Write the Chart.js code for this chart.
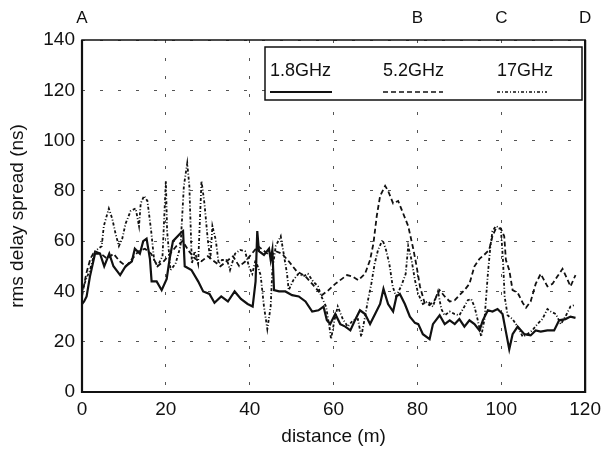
<!DOCTYPE html>
<html>
<head>
<meta charset="utf-8">
<style>
  html, body { margin: 0; padding: 0; background: #fff; }
</style>
<script src="https://cdn.jsdelivr.net/npm/chart.js@4.4.1/dist/chart.umd.min.js"></script>
</head>
<body>
<canvas id="chart" width="607" height="450"></canvas>
<script>
/* rms delay spread vs distance: [distance (m), ns] */

const labels = ['1.8GHz', '5.2GHz', '17GHz'];
const markers = [['A', 0], ['B', 80], ['C', 100], ['D', 120]];
const xTicks = [0, 20, 40, 60, 80, 100, 120];
const yTicks = [0, 20, 40, 60, 80, 100, 120, 140];

const s18 = [[0,35],[0.5,36],[1.1,38],[1.9,46],[3.1,55],[4.3,55],[5.3,50],[6.5,55],[7.5,50],[9.1,46.5],
  [10.4,50],[11.9,52],[12.6,57],[13.8,55],[14.6,60],[15.4,61],[16.2,53],[16.6,44],[17.8,44],[19,40.5],
  [20.2,45],[20.9,53],[21.7,60],[23.7,63.5],[24.1,64],[24.5,50],[26.1,48.5],[27.7,44],[28.9,40],[30.4,39],
  [31.6,35.5],[33.2,38],[34.8,36],[36.4,40],[37.9,37],[39.5,35],[40.7,34],[41.4,44],[41.8,64],[42.2,56],
  [43.4,54.5],[44.6,57],[45,52.5],[45.4,56.5],[45.8,40.5],[47,40],[48.5,40],[50.1,38.5],[51.7,38],[53.3,36],
  [54.9,32],[56.4,32.5],[57.6,34],[58.4,28.5],[59.2,27],[60.4,31],[61.6,27],[62.8,26],[64,24.5],[65.1,28.5],
  [66.3,32.5],[67.5,31],[68.7,27],[69.9,31],[71.1,35],[71.9,41],[73,35],[74.2,32],[75,38],[75.8,39],
  [77,35],[78.2,30],[79.4,27.5],[80.2,27],[81.3,23],[82.9,21],[83.7,27],[85.3,30.5],[86.5,27],[87.7,28.5],
  [88.9,27],[90,29],[91.2,26],[92.4,28.5],[93.6,27],[94.8,24.5],[95.6,28.5],[96.8,32.5],[97.9,32],[99.1,33],
  [100.3,31],[101.1,24],[101.9,17],[102.7,23],[103.9,26],[105.5,23],[107,22.5],[108.2,24.5],[109.4,24],
  [111,24.5],[112.6,24.5],[113.8,28.5],[115.3,29],[116.5,30],[117.7,29.5]];

const s52 = [[0,38],[1,47],[2,53],[3,56],[4.5,55],[6,53],[7.5,55],[9,52],[10.5,50],[12,53],
  [13.5,56],[15,57],[16.5,55],[18,50],[19.5,52],[21,55],[22.5,58],[24,60],[25.5,56],[27,53],
  [28.5,52],[30,54],[31.5,52],[33,50],[34.5,52],[36,54],[37.5,50],[39,52],[40.5,55],[42,58],
  [43.5,56],[45,54],[46.2,56],[47.7,55],[49.3,52],[51.2,48],[53.3,46],[54.9,43],[57.2,38.5],[58.8,40.5],
  [60.4,43],[62,45],[63.2,46.5],[64.4,46],[65.9,44.5],[67.5,47],[68.7,52.5],[69.5,59],[70.3,70],[71.1,78],
  [72.3,82],[73,80],[74.2,75],[75.4,76],[76.6,71],[77.8,66],[79,57],[79.8,50],[80.6,42],[81.7,35.5],
  [82.9,34.5],[84.1,36.5],[85.3,40.5],[86.5,38],[87.7,36],[88.9,36.5],[90,38.5],[91.2,40.5],[92.4,43],[93.6,50],
  [94.8,53],[95.9,54.5],[97.1,56.5],[97.9,62],[98.7,65],[99.9,65],[100.7,62],[101.1,52.5],[101.9,48.5],[102.7,40.5],
  [103.9,39.5],[105.1,35.5],[105.9,33.5],[107,36],[108.2,43],[109.4,47],[110.2,44.5],[111,42],[112.2,43],[113.4,46],
  [114.6,49],[115.7,45],[116.5,42],[117.7,46.5]];

const s17 = [[0,40],[1,45],[1.9,48.5],[3.1,56],[4.7,58],[5.2,66],[6.4,73],[7.2,69],[8,63],[8.8,58],
  [9.6,61],[10.4,67],[11.6,72],[12.8,73],[13.6,66],[14,75],[14.8,78],[15.6,76],[16.5,64],[17.2,52.5],
  [18,50],[19.2,54],[20,84],[20.3,64],[21.1,48.5],[22.3,51],[23.5,58],[24.3,82],[25.1,91],[25.6,82],
  [26.2,51],[26.9,56],[27.7,51],[28.5,84],[29.2,75],[30,60.5],[30.6,52.5],[31.1,66],[31.9,60.5],[32.6,51],
  [33.4,52.5],[34.6,52.5],[35.3,48.5],[36.5,55],[37.7,56.5],[38.9,56],[39.8,50],[40.6,47],[41.4,52.5],[42.6,46.5],
  [43.4,34],[44.2,25],[45,34],[45.4,48.5],[46.2,58],[47.4,62],[48.1,55],[48.9,47],[49.3,40.5],[50.4,44.5],
  [51.6,47],[52.8,46],[53.9,47],[55.1,44],[56.3,42],[57.1,38],[58.2,34],[59,26],[59.4,21],[60.2,28.5],
  [61,34],[62.2,29],[63.4,26],[64.6,28.5],[65.8,29],[66.6,22],[67.4,29],[68.2,36.5],[69,43],[69.8,51],
  [70.6,56.5],[71.7,60.5],[72.5,56.5],[73.3,51],[74.1,42],[74.9,38],[76.1,42],[77.2,47],[77.8,58],[78.6,52.5],
  [79.4,44.5],[80.2,39],[81.3,35],[82.5,36],[83.7,34],[84.9,40],[85.7,33],[86.5,30.5],[87.7,32],[88.9,31],
  [90,30.5],[91.2,34],[92,36.5],[92.8,37],[93.6,34],[94.4,28.5],[95.2,22],[96,29],[96.8,47],[97.4,58],
  [97.9,64],[98.7,66],[99.9,65],[100.4,52.5],[100.8,38],[101.5,30.5],[102.7,29],[103.9,26],[105.1,22],[106.2,23],
  [107.4,24.5],[108.6,27],[109.8,29],[111,33],[111.8,32],[113,31],[114.2,27],[115.3,30],[116.5,34],[117.3,34.5]];

const FONT = '"Liberation Sans", Arial, Helvetica, sans-serif';
const INK = '#111';
const dashes = [[], [5, 3], [3, 2, 1, 2]];
const widths = [2.2, 1.8, 1.8];

const toPts = arr => arr.map(p => ({x: p[0], y: p[1]}));

// white box under the legend so grid dots don't show through
const legendBg = {
  id: 'legendBg',
  beforeDatasetsDraw(chart) {
    const ctx = chart.ctx;
    ctx.save();
    ctx.fillStyle = '#fff';
    ctx.fillRect(265, 47, 317, 53);
    ctx.restore();
  }
};

// frame, A-D markers and the boxed legend of the original figure
const decor = {
  id: 'decor',
  afterDraw(chart) {
    const {ctx, chartArea: a, scales} = chart;
    ctx.save();
    ctx.strokeStyle = INK;
    ctx.setLineDash([]);
    ctx.lineWidth = 1.5;
    ctx.strokeRect(a.left, a.top, a.right - a.left, a.bottom - a.top);
    ctx.lineWidth = 2.2;
    ctx.beginPath();
    ctx.moveTo(a.left, a.top); ctx.lineTo(a.left, a.bottom); ctx.lineTo(a.right, a.bottom);
    ctx.lineTo(a.right, a.top);
    ctx.stroke();

    ctx.fillStyle = INK;
    ctx.font = '17px ' + FONT;
    ctx.textAlign = 'center';
    ctx.textBaseline = 'middle';
    markers.forEach(m => ctx.fillText(m[0], scales.x.getPixelForValue(m[1]), 18));

    // legend box
    ctx.lineWidth = 1.5;
    ctx.strokeRect(265, 47, 317, 53);
    const lx = [270, 383, 497];
    const lw = [62, 60, 50];
    ctx.textAlign = 'left';
    ctx.font = '18px ' + FONT;
    chart.data.datasets.forEach((ds, i) => {
      ctx.fillText(ds.label, lx[i], 71);
      ctx.lineWidth = widths[i] - 0.4;
      ctx.setLineDash(dashes[i]);
      ctx.beginPath();
      ctx.moveTo(lx[i], 92); ctx.lineTo(lx[i] + lw[i], 92);
      ctx.stroke();
    });
    ctx.restore();
  }
};

const series = [s18, s52, s17];

new Chart(document.getElementById('chart'), {
  type: 'line',
  data: {
    datasets: series.map((s, i) => ({
      label: labels[i],
      data: toPts(s),
      borderColor: INK,
      borderWidth: widths[i],
      borderDash: dashes[i],
      pointRadius: 0,
      tension: 0,
      fill: false
    }))
  },
  options: {
    responsive: false,
    animation: false,
    events: [],
    layout: { padding: { top: 40, right: 19, left: 0, bottom: 0 } },
    plugins: { legend: { display: false }, tooltip: { enabled: false } },
    scales: {
      x: {
        type: 'linear', min: 0, max: 120,
        afterBuildTicks: s => { s.ticks = xTicks.map(v => ({value: v})); },
        ticks: { color: INK, font: { family: FONT, size: 19 }, padding: 6, maxRotation: 0 },
        grid: { color: '#555', lineWidth: 1, drawTicks: false },
        border: { display: false, dash: [3, 15] },
        title: { display: true, text: 'distance (m)', color: INK,
                 font: { family: FONT, size: 19 }, padding: { top: 0, bottom: 2 } },
        afterFit: s => { s.height = 58; }
      },
      y: {
        min: 0, max: 140,
        afterBuildTicks: s => { s.ticks = yTicks.map(v => ({value: v})); },
        ticks: { color: INK, font: { family: FONT, size: 19 }, padding: 7 },
        grid: { color: '#555', lineWidth: 1, drawTicks: false },
        border: { display: false, dash: [3, 15] },
        title: { display: true, text: 'rms delay spread (ns)', color: INK,
                 font: { family: FONT, size: 19 }, padding: 6 },
        afterFit: s => { s.width = 82; }
      }
    }
  },
  plugins: [legendBg, decor]
});
</script>
</body>
</html>
